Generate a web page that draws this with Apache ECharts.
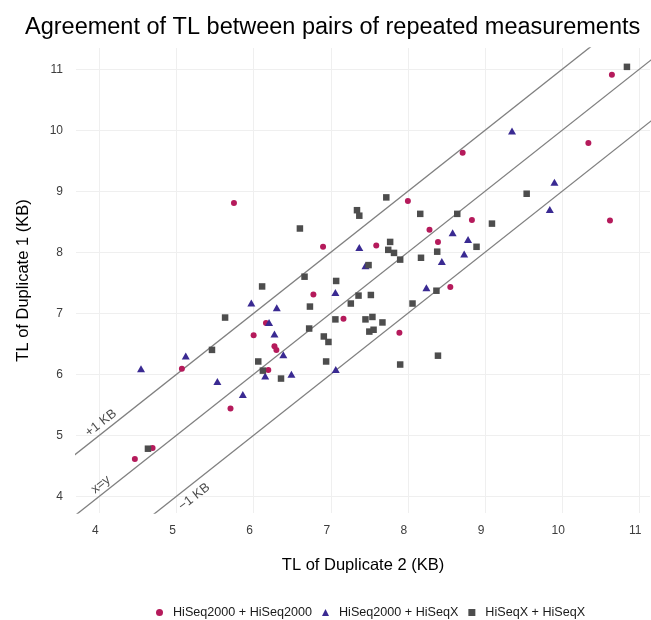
<!DOCTYPE html>
<html>
<head>
<meta charset="utf-8">
<script src="https://cdn.jsdelivr.net/npm/echarts@6/dist/echarts.min.js"></script>
<style>
  html, body { margin: 0; padding: 0; background: #fff; }
  #chart { width: 651px; height: 620px; }
</style>
</head>
<body>
<div id="chart"></div>
<script>
// TL of Duplicate 2 (x) vs TL of Duplicate 1 (y), KB
const hiseq2000Pairs = [
  [5.745, 8.81], [6.90, 8.09], [10.645, 10.91], [8.71, 9.63], [10.34, 9.79],
  [8.00, 8.84], [10.62, 8.52], [8.83, 8.53], [8.28, 8.37], [8.39, 8.17],
  [7.59, 8.11], [8.55, 7.43], [7.89, 6.68], [6.775, 7.31], [7.165, 6.91],
  [6.16, 6.84], [6.00, 6.64], [6.27, 6.46], [6.295, 6.40], [5.07, 6.09],
  [6.19, 6.07], [5.70, 5.44], [4.69, 4.79], [4.46, 4.61]
];
const mixedPairs = [
  [7.37, 8.08], [9.35, 9.99], [9.90, 9.15], [9.84, 8.70], [8.58, 8.32],
  [8.78, 8.21], [8.73, 7.97], [8.44, 7.85], [7.45, 7.78], [8.24, 7.42],
  [7.06, 7.34], [5.97, 7.17], [6.30, 7.09], [6.20, 6.85], [6.27, 6.66],
  [6.385, 6.32], [5.12, 6.30], [4.54, 6.09], [6.15, 5.97], [6.49, 6.00],
  [7.065, 6.08], [5.53, 5.88], [5.86, 5.67]
];
const hiseqXPairs = [
  [6.60, 8.39], [7.34, 8.69], [7.37, 8.60], [10.84, 11.04], [9.54, 8.96],
  [7.72, 8.90], [8.16, 8.63], [8.64, 8.63], [9.09, 8.47], [7.77, 8.17],
  [7.745, 8.04], [7.82, 7.99], [8.38, 8.01], [7.90, 7.88], [8.17, 7.91],
  [8.89, 8.09], [7.49, 7.79], [8.37, 7.37], [8.06, 7.16], [7.36, 7.29],
  [7.52, 7.30], [7.26, 7.16], [7.45, 6.90], [7.54, 6.94], [7.67, 6.85],
  [7.50, 6.70], [7.555, 6.73], [8.39, 6.305], [7.90, 6.16], [6.66, 7.60],
  [7.07, 7.53], [6.11, 7.44], [6.73, 7.11], [5.63, 6.93], [7.06, 6.90],
  [6.72, 6.75], [6.91, 6.62], [6.97, 6.53], [5.46, 6.40], [6.06, 6.21],
  [6.12, 6.06], [6.355, 5.93], [6.94, 6.21], [4.63, 4.78]
];

const seriesNames = ['HiSeq2000 + HiSeq2000', 'HiSeq2000 + HiSeqX', 'HiSeqX + HiSeqX'];

// reference lines y = x + offset
const lineOffsets = [1, 0, -1];
const lineXs = [3, 12];
const lineLabels = ['+1 KB', 'x=y', '\u22121 KB'];
const lineLabelPos = [[4.02, 5.20], [4.02, 4.19], [5.23, 3.99]];

const chart = echarts.init(document.getElementById('chart'));
const font = "'Liberation Sans', Arial, sans-serif";

const refSeries = lineOffsets.map(off => ({
  type: 'line',
  silent: true,
  symbol: 'none',
  data: lineXs.map(x => [x, x + off]),
  lineStyle: { color: '#808080', width: 1.3 },
  z: 1
}));

const option = {
  animation: false,
  textStyle: { fontFamily: font },
  title: {
    text: 'Agreement of TL between pairs of repeated measurements',
    left: 20,
    top: 11,
    textStyle: { fontSize: 23.5, fontWeight: 'normal', color: '#000', fontFamily: font }
  },
  grid: { left: 76, right: 1, top: 48, bottom: 107 },
  xAxis: {
    type: 'value',
    min: 3.697,
    max: 11.139,
    splitNumber: 7,
    name: 'TL of Duplicate 2 (KB)',
    nameLocation: 'middle',
    nameGap: 44,
    nameTextStyle: { fontSize: 16.5, color: '#000', fontFamily: font, verticalAlign: 'top' },
    axisLine: { show: false },
    axisTick: { show: false },
    axisLabel: {
      color: '#3d3d3d', fontSize: 12, margin: 12,
      padding: [0, 8, 0, 0],
      showMinLabel: false, showMaxLabel: false
    },
    splitLine: { showMinLine: false, showMaxLine: false, lineStyle: { color: '#efefef', width: 1 } }
  },
  yAxis: {
    type: 'value',
    min: 3.726,
    max: 11.349,
    splitNumber: 7,
    name: 'TL of Duplicate 1 (KB)',
    nameLocation: 'middle',
    nameGap: 44,
    nameRotate: 90,
    nameTextStyle: { fontSize: 16.5, color: '#000', fontFamily: font },
    axisLine: { show: false },
    axisTick: { show: false },
    axisLabel: { color: '#3d3d3d', fontSize: 12, margin: 13, showMinLabel: false, showMaxLabel: false },
    splitLine: { showMinLine: false, showMaxLine: false, lineStyle: { color: '#efefef', width: 1 } }
  },
  legend: {
    data: seriesNames,
    left: 151,
    top: 601,
    itemWidth: 7,
    itemHeight: 7,
    itemGap: 10,
    textStyle: { fontSize: 12.6, color: '#1a1a1a', fontFamily: font, padding: [0, 0, 0, 5] }
  },
  series: [
    ...refSeries,
    {
      type: 'scatter',
      silent: true,
      symbolSize: 0,
      data: lineLabelPos.map((p, i) => ({ value: p, name: lineLabels[i] })),
      label: {
        show: true,
        position: 'inside',
        rotate: 38,
        formatter: p => p.name,
        fontSize: 13,
        color: '#1a1a1a',
        fontFamily: font
      },
      z: 2
    },
    {
      name: seriesNames[0],
      type: 'scatter',
      symbol: 'circle',
      symbolSize: 6,
      itemStyle: { color: '#B51A5B', opacity: 1 },
      data: hiseq2000Pairs,
      z: 3
    },
    {
      name: seriesNames[1],
      type: 'scatter',
      symbol: 'triangle',
      symbolSize: [8, 7],
      itemStyle: { color: '#3A2A92', opacity: 1 },
      data: mixedPairs,
      z: 3
    },
    {
      name: seriesNames[2],
      type: 'scatter',
      symbol: 'rect',
      symbolSize: 6.5,
      itemStyle: { color: '#4D4D4D', opacity: 1 },
      data: hiseqXPairs,
      z: 3
    }
  ]
};

chart.setOption(option);
window.addEventListener('resize', () => chart.resize());
</script>
</body>
</html>
